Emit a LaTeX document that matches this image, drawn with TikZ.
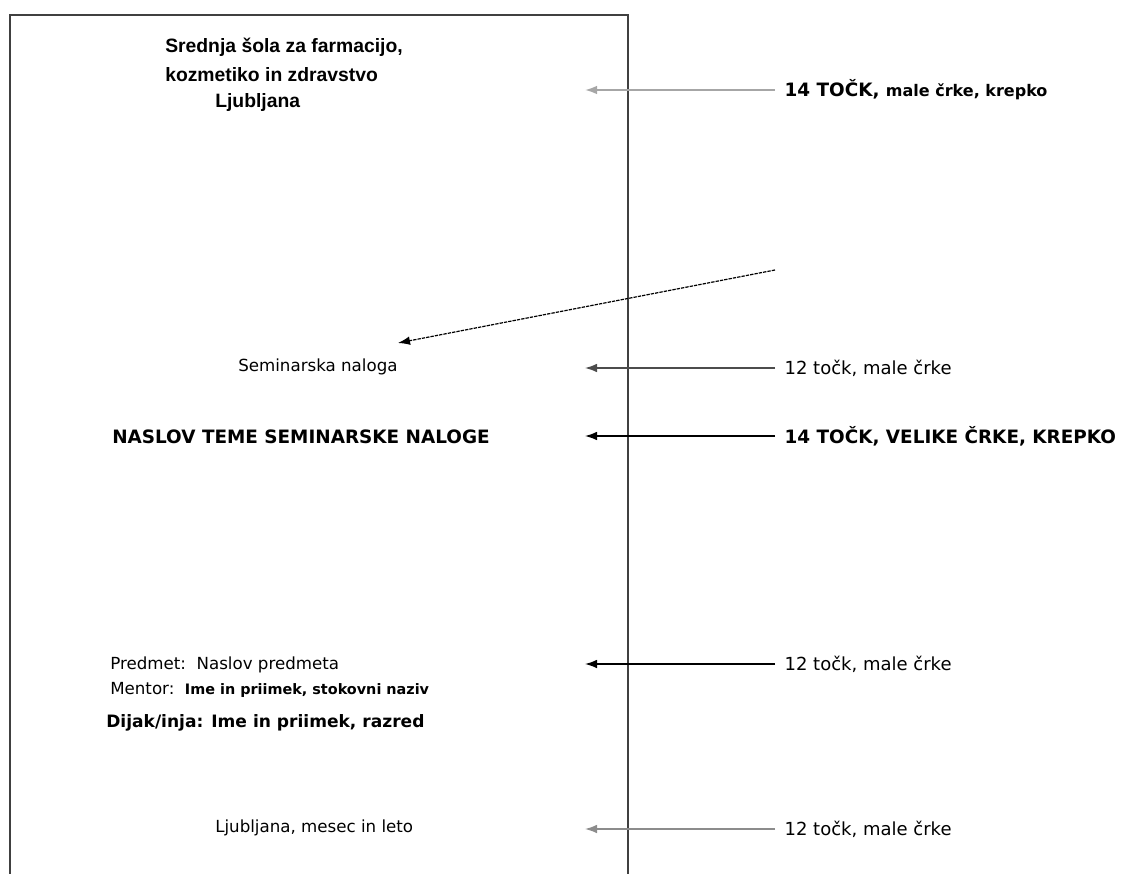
\documentclass[tikz,border=0pt]{standalone}
\usepackage{fontspec}
\setmainfont{DejaVu Sans}
\newfontfamily\arialfont{Liberation Sans}
\usepackage{xcolor}
\usetikzlibrary{positioning, arrows.meta}

\begin{document}
\begin{tikzpicture}[x=0.75pt, y=-0.75pt, every node/.style={inner sep=0pt, anchor=west}]
      \tikzstyle{page}=[draw=black!75, line width=1.1pt]
      \tikzstyle{txt}=[font=\fontsize{12.5}{15}\selectfont]
      \tikzstyle{note}=[font=\fontsize{13.5}{16}\selectfont]
      \tikzstyle{bigbold}=[font=\fontsize{13.8}{16}\selectfont\bfseries]
      \tikzstyle{titl}=[font=\arialfont\fontsize{14.5}{18}\selectfont\bfseries]
      \tikzstyle{lbl}=[inner xsep=7pt]
      \tikzstyle{arr}=[-{Latex[length=9pt, width=6.5pt]}, line width=1.1pt]
      \useasboundingbox (0,0) rectangle (1136,874);
      % page outline
      \draw[page] (10,874) |- (628,15) -- (628,874);
      % title page contents
      \node[titl] (tit1) at (165,47) {Srednja šola za farmacijo,};
      \node[titl] (tit2) at (165,75) {kozmetiko in zdravstvo};
      \node[titl] (tit3) at (215,103) {Ljubljana};
      \node[txt] (sem) at (238,367) {Seminarska naloga};
      \node[bigbold] (naslov) at (112,437) {NASLOV TEME SEMINARSKE NALOGE};
      \node[txt] (predmet) at (110,665) {Predmet:\ \ Naslov predmeta};
      \node[txt] (mentor) at (110,690) {Mentor:\ \ {\fontsize{10.8}{12}\selectfont\bfseries Ime in priimek, stokovni naziv}};
      \node[font=\fontsize{12.8}{15}\selectfont\bfseries] (dijak) at (106,723) {Dijak/inja: Ime in priimek, razred};
      \node[txt] (kraj) at (215,828) {Ljubljana, mesec in leto};
      % notes on the right
      \node[lbl, bigbold] (l1) at (775,90) {14 TOČK, {\fontsize{12}{14}\selectfont male črke, krepko}};
      \node[lbl, note] (l2) at (775,368) {12 točk, male črke};
      \node[lbl, bigbold] (l3) at (775,436) {14 TOČK, VELIKE ČRKE, KREPKO};
      \node[lbl, note] (l4) at (775,664) {12 točk, male črke};
      \node[lbl, note] (l5) at (775,829) {12 točk, male črke};
      \coordinate (t1) at (585,90);
      \coordinate (t2) at (585,368);
      \coordinate (t3) at (585,436);
      \coordinate (t4) at (585,664);
      \coordinate (t5) at (585,829);
      \draw[arr, black!35, line width=1.5pt] (l1) -- (t1);
      \draw[arr, black!70] (l2) -- (t2);
      \draw[arr] (l3) -- (t3);
      \draw[arr] (l4) -- (t4);
      \draw[arr, black!45] (l5) -- (t5);
      % slanted pointer
      \coordinate (d0) at (775,270);
      \coordinate (d1) at (398,343);
      \draw[arr, line width=0.9pt, dash pattern=on 2.5pt off 0.8pt] (d0) -- (d1);
    \end{tikzpicture}
\end{document}
